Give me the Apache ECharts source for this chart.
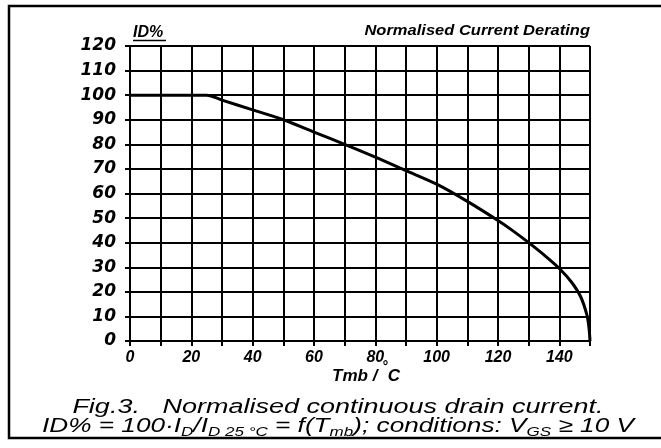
<!DOCTYPE html>
<html>
<head>
<meta charset="utf-8">
<script src="https://cdn.jsdelivr.net/npm/echarts@6/dist/echarts.min.js"></script>
<style>
  html, body { margin: 0; padding: 0; background: #fff; }
  #chart { width: 661px; height: 448px; }
</style>
</head>
<body>
<div id="chart"></div>
<script>
// curve: Tmb (°C) -> ID%
var tempC = [0, 25, 30, 40, 50, 60, 70, 80, 90, 100, 110, 120, 125, 130, 135, 140, 144, 147, 149, 149.7, 150];
var idPct = [100, 100, 98, 94, 90, 85, 80, 74.8, 69.3, 63.8, 56.8, 49, 44.7, 40, 35, 29.5, 23.9, 17.9, 10.5, 5, 0];

var xLabels = [0, 20, 40, 60, 80, 100, 120, 140];

var points = tempC.map(function (t, i) { return [t, idPct[i]]; });

var myChart = echarts.init(document.getElementById('chart'));

var gridLine = { color: '#000', width: 2 };

var option = {
  backgroundColor: '#fff',
  animation: false,
  grid: {
    left: 130,
    right: 71,
    top: 46,
    bottom: 107
  },
  xAxis: {
    type: 'value',
    min: 0,
    max: 150,
    interval: 10,
    name: '{a|Tmb / }{d|°}{a|C}',
    nameLocation: 'middle',
    nameGap: 19,
    nameMoveOverlap: false,
    nameTextStyle: {
      padding: [0, 0, 0, 12],
      rich: {
        a: { fontFamily: 'Liberation Sans', fontStyle: 'italic', fontWeight: 'bold', fontSize: 17, color: '#000', lineHeight: 20, verticalAlign: 'bottom' },
        d: { fontFamily: 'Liberation Sans', fontStyle: 'italic', fontWeight: 'bold', fontSize: 14, color: '#000', padding: [0, 0, 11, 0], verticalAlign: 'bottom' }
      }
    },
    axisLine: { show: true, lineStyle: gridLine },
    axisTick: { show: true, length: 5, lineStyle: gridLine },
    splitLine: { show: true, lineStyle: gridLine },
    axisLabel: {
      margin: 9,
      color: '#000',
      fontFamily: 'Liberation Sans',
      fontStyle: 'italic',
      fontWeight: 'bold',
      fontSize: 16,
      formatter: function (v) {
        return xLabels.indexOf(v) >= 0 ? String(v) : '';
      }
    }
  },
  yAxis: {
    type: 'value',
    min: 0,
    max: 120,
    interval: 10,
    name: 'ID%',
    nameLocation: 'end',
    nameGap: 5,
    nameTextStyle: {
      align: 'left',
      padding: [0, 0, 0, 3],
      color: '#000',
      fontFamily: 'Liberation Sans',
      fontStyle: 'italic',
      fontWeight: 'bold',
      fontSize: 16
    },
    axisLine: { show: true, lineStyle: gridLine },
    axisTick: { show: true, length: 5, lineStyle: gridLine },
    splitLine: { show: true, lineStyle: gridLine },
    axisLabel: {
      margin: 14,
      color: '#000',
      fontFamily: 'DejaVu Sans',
      fontStyle: 'italic',
      fontWeight: 'bold',
      fontSize: 17
    }
  },
  series: [
    {
      name: 'ID%',
      type: 'line',
      data: points,
      smooth: 0.3,
      showSymbol: false,
      lineStyle: { color: '#000', width: 3 },
      z: 5
    }
  ],
  graphic: [
    {
      type: 'polyline',
      shape: { points: [[670, 6], [9, 6], [9, 438], [670, 438]] },
      style: { fill: null, stroke: '#000', lineWidth: 2.5 }
    },
    {
      // underline under the ID% label
      type: 'line',
      shape: { x1: 133, y1: 40.5, x2: 166, y2: 40.5 },
      style: { stroke: '#000', lineWidth: 1.5 }
    },
    {
      type: 'text',
      x: 590,
      y: 31,
      scaleX: 1.1,
      style: {
        text: 'Normalised Current Derating',
        x: 0,
        y: 0,
        align: 'right',
        verticalAlign: 'middle',
        fill: '#000',
        font: 'italic bold 15px "Liberation Sans"'
      }
    },
    {
      type: 'text',
      x: 338,
      y: 407,
      scaleX: 1.35,
      style: {
        text: 'Fig.3.   Normalised continuous drain current.',
        x: 0,
        y: 0,
        align: 'center',
        verticalAlign: 'middle',
        fill: '#000',
        font: 'italic 20px "Liberation Sans"'
      }
    },
    {
      type: 'text',
      x: 338,
      y: 426.5,
      scaleX: 1.31,
      style: {
        text: '{m|ID% = 100·I}{s|D}{m|/I}{s|D 25 °C}{m| = f(T}{s|mb}{m|); conditions: V}{s|GS}{m| ≥ 10 V}',
        x: 0,
        y: 0,
        align: 'center',
        verticalAlign: 'middle',
        rich: {
          m: { fontFamily: 'Liberation Sans', fontStyle: 'italic', fontSize: 20, color: '#000', lineHeight: 24 },
          s: { fontFamily: 'Liberation Sans', fontStyle: 'italic', fontSize: 13, color: '#000', lineHeight: 10, verticalAlign: 'bottom' }
        }
      }
    }
  ]
};

myChart.setOption(option);
</script>
</body>
</html>
